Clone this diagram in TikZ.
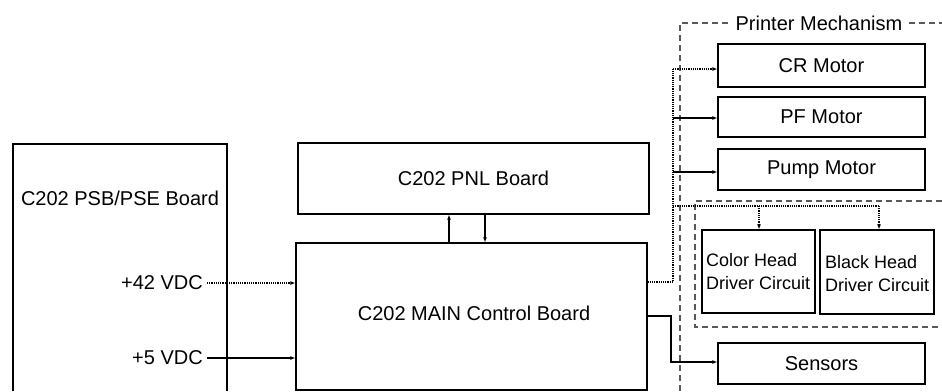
\documentclass[tikz,border=0pt]{standalone}
\usepackage{fontspec}
\setmainfont{Liberation Sans}
\usetikzlibrary{arrows.meta}
\begin{document}
\begin{tikzpicture}[x=1pt,y=-1pt,
  box/.style={draw=black,line width=1.2pt,inner sep=0pt},
  lbl/.style={font=\fontsize{20}{24}\selectfont,inner sep=0pt},
  small/.style={font=\fontsize{18}{23}\selectfont,inner sep=0pt,align=left},
  conn/.style={line width=1.2pt,-{Latex[length=5pt,width=4pt]}},
  dconn/.style={conn,densely dotted},
  bound/.style={line width=1.2pt,dash pattern=on 6pt off 4pt,gray!70!black}]
\useasboundingbox (0,0) rectangle (942,391);
% PSU box (open at the bottom)
\draw[line width=1.2pt] (13,391) -- (13,144) -- (227,144) -- (227,391);
\node[lbl] (psu) at (120,198) {C202 PSB/PSE Board};
\node[lbl,anchor=east] (v42) at (203,283) {+42 VDC};
\node[lbl,anchor=east] (v5) at (203,358) {+5 VDC};
% PNL and MAIN
\node[box,minimum width=351pt,minimum height=71pt] (pnl) at (473.5,178.5) {};
\node[lbl] (pnlt) at (pnl.center) {C202 PNL Board};
\node[box,minimum width=351pt,minimum height=147pt] (main) at (471.5,316.5) {};
\node[lbl] (maint) at (474,313) {C202 MAIN Control Board};
% printer mechanism boundary
\node[lbl] (pm) at (819,23) {Printer Mechanism};
\coordinate (pmL) at (680,391);
\coordinate (pmR) at (942,23);
\draw[bound] (pmL) -- (680,23) -- ([xshift=-6pt]pm.west);
\draw[bound] ([xshift=6pt]pm.east) -- (pmR);
% motors
\node[box,minimum width=207pt,minimum height=43pt] (cr) at (821.5,65.5) {};
\node[lbl] at (cr.center) {CR Motor};
\node[box,minimum width=207pt,minimum height=40pt] (pf) at (821.5,117) {};
\node[lbl] at (pf.center) {PF Motor};
\node[box,minimum width=207pt,minimum height=41pt] (pump) at (821.5,169.5) {};
\node[lbl] at (pump.center) {Pump Motor};
\node[box,minimum width=207pt,minimum height=41pt] (sens) at (821.5,363.5) {};
\node[lbl] at (sens.center) {Sensors};
% head circuits
\coordinate (hdA) at (942,201);
\coordinate (hdB) at (942,327);
\draw[bound] (hdA) -- (695,201) -- (695,327) -- (hdB);
\node[box,minimum width=113pt,minimum height=83pt] (colhd) at (758.5,271.5) {};
\node[small,anchor=west] at (706,271.5) {Color Head\\Driver Circuit};
\node[box,minimum width=114pt,minimum height=84pt] (blkhd) at (877,272) {};
\node[small,anchor=west] at (825,274) {Black Head\\Driver Circuit};
% power connectors
\draw[dconn] ([xshift=4pt]v42.east) -- (main.west |- v42.east);
\draw[conn] ([xshift=4pt]v5.east) -- (main.west |- v5.east);
% PNL <-> MAIN
\coordinate (up1) at (449,243);
\coordinate (dn1) at (485,214);
\draw[conn] (up1) -- (up1 |- pnl.south);
\draw[conn] (dn1) -- (dn1 |- main.north);
% bus to mechanism
\coordinate (busB) at (673,282);
\coordinate (busT) at (673,69);
\coordinate (busPF) at (673,118);
\coordinate (busPump) at (673,172);
\coordinate (busH) at (673,206);
\coordinate (hj1) at (759,206);
\coordinate (hj2) at (879,206);
\draw[densely dotted,line width=1.2pt] (main.east |- busB) -- (busB) -- (busT);
\draw[dconn] (busT) -- (cr.west |- busT);
\draw[conn] (busPF) -- (pf.west |- busPF);
\draw[conn] (busPump) -- (pump.west |- busPump);
\draw[densely dotted,line width=1.2pt] (busH) -- (hj2);
\draw[dconn] (hj1) -- (hj1 |- colhd.north);
\draw[dconn] (hj2) -- (hj2 |- blkhd.north);
% sensors
\coordinate (s1) at (671,316);
\coordinate (s2) at (671,362);
\draw[conn] (main.east |- s1) -- (s1) -- (s2) -- (sens.west |- s2);
\end{tikzpicture}
\end{document}
